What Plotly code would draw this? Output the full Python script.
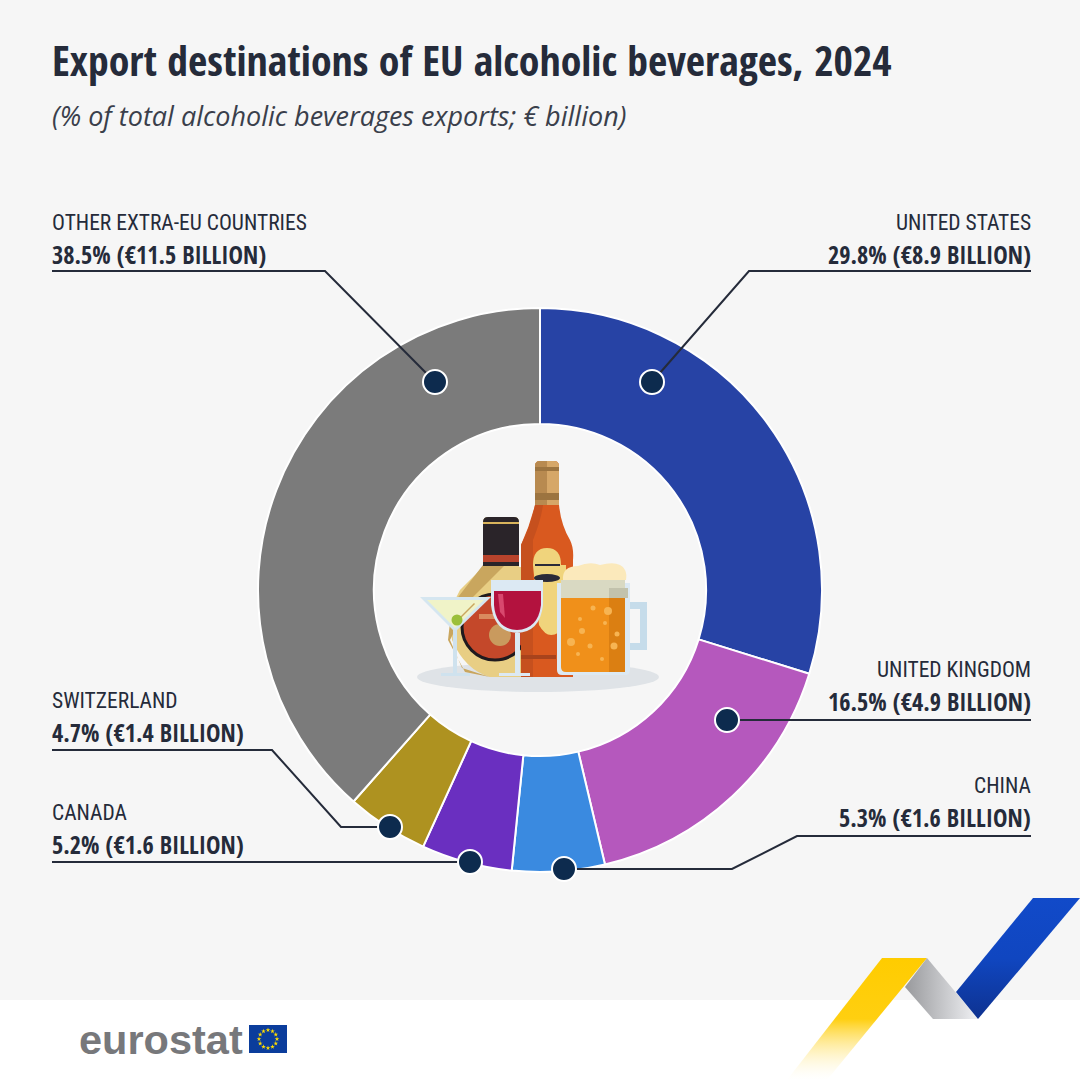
#!/usr/bin/env python3
# -*- coding: utf-8 -*-
# Export destinations of EU alcoholic beverages, 2024 (eurostat infographic)
import numpy as np
import plotly.graph_objs as go

# Data
destinations = ['UNITED STATES', 'UNITED KINGDOM', 'CHINA', 'CANADA', 'SWITZERLAND', 'OTHER EXTRA-EU COUNTRIES']
shares = [29.8, 16.5, 5.3, 5.2, 4.7, 38.5]
billions = ['8.9', '4.9', '1.6', '1.6', '1.4', '11.5']
colors = ['#2743A5', '#B558BD', '#3A8AE0', '#6A2FC0', '#AE9220', '#7B7B7B']

title = 'Export destinations of EU alcoholic beverages, 2024'
subtitle = '(% of total alcoholic beverages exports; € billion)'

# Label layout, in page pixels: x, y of first line, anchor
label_x = [1031, 1031, 1031, 52, 52, 52]
label_y = [222, 669, 785, 812, 700, 222]
label_anchor = ['right', 'right', 'right', 'left', 'left', 'left']

# Leader lines, page pixels (last point is the dot)
leaders = [
    [(1031, 271), (749, 271), (652, 382)],
    [(1031, 720), (727, 720)],
    [(1031, 836), (797, 836), (732, 869), (564, 869)],
    [(52, 862), (470, 862)],
    [(52, 750), (272, 750), (341, 827), (390, 827)],
    [(52, 271), (325, 271), (435, 382)],
]

REGULAR = 'Roboto Condensed'
BOLD = 'Open Sans Condensed'
INK = '#252B3A'
shapes = []


def poly(points, color, layer='above'):
    path = 'M' + ' L'.join(f'{x},{y}' for x, y in points) + ' Z'
    shapes.append(dict(type='path', path=path, fillcolor=color, line_width=0,
                       xref='x', yref='y', layer=layer))


def curve(path, color):
    shapes.append(dict(type='path', path=path, fillcolor=color, line_width=0,
                       xref='x', yref='y', layer='above'))


def ellipse(cx, cy, rx, ry, color, line=None, lw=0, layer='above'):
    shapes.append(dict(type='circle', x0=cx - rx, x1=cx + rx, y0=cy - ry, y1=cy + ry,
                       fillcolor=color, line=dict(color=line, width=lw) if line else dict(width=0),
                       xref='x', yref='y', layer=layer))


fig = go.Figure()

# Donut
fig.add_trace(go.Pie(labels=destinations, values=shares, sort=False, direction='clockwise',
                     rotation=0, hole=0.589, textinfo='none', hoverinfo='label+percent',
                     showlegend=False,
                     marker=dict(colors=colors, line=dict(color='#FFFFFF', width=2)),
                     domain=dict(x=[258 / 1080, 822 / 1080], y=[208 / 1080, 772 / 1080])))

# Ribbon in the bottom corner
fig.add_trace(go.Scatter(x=[882, 927, 827, 787, 882], y=[958, 958, 1080, 1080, 958], mode='lines',
                         fill='toself', line_width=0, hoverinfo='skip', showlegend=False,
                         fillgradient=dict(type='vertical', start=958, stop=1080,
                                           colorscale=[[0, '#FFCC00'], [0.5, '#FFCF10'], [1, 'rgba(255,255,255,0.2)']])))
fig.add_trace(go.Scatter(x=[927, 978, 933, 905, 927], y=[958, 1019, 1019, 987, 958], mode='lines',
                         fill='toself', line_width=0, hoverinfo='skip', showlegend=False,
                         fillgradient=dict(type='horizontal', start=905, stop=978,
                                           colorscale=[[0, '#98999C'], [1, '#F0F1F4']])))
fig.add_trace(go.Scatter(x=[1033, 1080, 978, 956, 1033], y=[898, 898, 1019, 992, 898], mode='lines',
                         fill='toself', line_width=0, hoverinfo='skip', showlegend=False,
                         fillgradient=dict(type='vertical', start=898, stop=1019,
                                           colorscale=[[0, '#114AC9'], [0.5, '#1046C0'], [1, '#0E3290']])))

# Flag stars of the logo
star_angle = np.arange(12) * np.pi / 6
fig.add_trace(go.Scatter(x=268 + 9 * np.sin(star_angle), y=1039 - 9 * np.cos(star_angle), mode='markers',
                         marker=dict(symbol='star', size=3.5, color='#FFDD00'),
                         hoverinfo='skip', showlegend=False))

# White footer and flag
poly([(0, 1000), (1080, 1000), (1080, 1080), (0, 1080)], '#FFFFFF', layer='below')
poly([(249, 1025), (287, 1025), (287, 1053), (249, 1053)], '#0B3D9C', layer='below')

# Drinks illustration in the hole
ellipse(538, 677, 121, 15, '#DFE3E7')
# black bottle
curve('M483,522 Q483,517 488,517 L514,517 Q519,517 519,522 L519,567 L530,567 L530,677 L490,677 '
      'Q465,670 452,640 Q448,610 460,590 Q472,578 483,567 Z', '#E8CE84')
poly([(483, 565), (505, 565), (470, 600), (450, 640), (462, 668), (490, 677), (465, 672), (448, 640), (452, 605)], '#C9A65E')
curve('M483,522 Q483,517 488,517 L514,517 Q519,517 519,522 L519,566 L483,566 Z', '#2A2429')
poly([(483, 522), (519, 522), (519, 524), (483, 524)], '#D9B45C')
poly([(483, 555), (519, 555), (519, 562), (483, 562)], '#B8432C')
ellipse(495, 627, 33, 33, '#C4482A', line='#1F1A1E', lw=3)
ellipse(500, 635, 11, 11, '#C99A5E')
poly([(479, 614), (498, 614), (498, 619), (479, 619)], '#D98B5E')
# orange bottle
curve('M535,466 Q535,461 540,461 L554,461 Q559,461 559,466 L559,505 Q561,525 570,540 Q574,548 573,560 '
      'L573,677 L521,677 L521,545 Q530,525 535,505 Z', '#D9591F')
curve('M535,505 Q531,525 521,545 L521,677 L533,677 L533,540 Q541,520 543,505 Z', '#C6501E')
curve('M535,466 Q535,461 540,461 L554,461 Q559,461 559,466 L559,505 L535,505 Z', '#D6A768')
curve('M535,466 Q535,461 540,461 L547,461 L547,505 L535,505 Z', '#B88A50')
poly([(535, 467), (559, 467), (559, 471), (535, 471)], '#9C7440')
poly([(535, 493), (559, 493), (559, 500), (535, 500)], '#9C7440')
curve('M533,565 Q533,548 547,548 Q561,548 561,565 L566,565 L566,625 Q550,645 539,625 L533,565 Z', '#F0D47C')
poly([(535, 564), (560, 564), (560, 566), (535, 566)], '#2B2A38')
ellipse(547, 578, 13, 4, '#2B2A38')
poly([(521, 655), (556, 655), (556, 659), (521, 659)], '#A8431C')
# martini
poly([(420, 597), (491, 597), (455, 632)], '#D5E6F0')
poly([(427, 600), (484, 600), (455, 628)], '#F0F3C8')
poly([(453, 630), (457, 630), (457, 675), (453, 675)], '#CFE2EE')
poly([(441, 673), (470, 673), (470, 676), (441, 676)], '#CFE2EE')
poly([(457, 620), (474, 603), (475, 604), (458, 621)], '#C9A65E')
ellipse(457, 620, 5.5, 5.5, '#9BBF3A')
# wine glass
curve('M491,580 L543,580 L543,605 Q540,632 517,633 Q494,632 491,605 Z', '#DCE9F3')
curve('M494,591 L541,591 L541,605 Q538,629 517,630 Q496,629 494,605 Z', '#B3123E')
poly([(515, 633), (520, 633), (520, 675), (515, 675)], '#DCE9F3')
poly([(499, 673), (530, 673), (530, 676), (499, 676)], '#DCE9F3')
poly([(498, 594), (503, 594), (505, 618), (500, 612)], '#D8486E')
# beer mug
curve('M630,602 L647,602 L647,650 L630,650 L630,643 L640,643 L640,609 L630,609 Z', '#C6DCEA')
curve('M557,583 L630,583 L630,670 Q630,675 625,675 L562,675 Q557,675 557,670 Z', '#DCE9F3')
curve('M561,598 L625,598 L625,667 Q625,672 620,672 L566,672 Q561,672 561,667 Z', '#F0901A')
poly([(609, 598), (625, 598), (625, 672), (609, 672)], '#DB7F12')
poly([(561, 580), (625, 580), (625, 598), (561, 598)], '#D9D9C2')
poly([(609, 588), (628, 588), (628, 598), (609, 598)], '#C2C2AC')
curve('M563,580 Q562,566 578,566 Q590,561 600,565 Q620,560 625,570 Q627,574 626,580 Z', '#FBE9BB')
for bx, by, br in [(593, 608, 2.5), (608, 611, 4), (580, 619, 2), (605, 623, 2), (582, 631, 3),
                   (571, 642, 4), (590, 646, 2.5), (614, 646, 3.5), (578, 654, 2), (602, 659, 2), (617, 634, 2.5)]:
    ellipse(bx, by, br, br, '#F7B452')

# Leader lines and dots
for pts in leaders:
    path = 'M' + ' L'.join(f'{x},{y}' for x, y in pts)
    shapes.append(dict(type='path', path=path, line=dict(color=INK, width=2),
                       xref='x', yref='y', layer='above'))
for pts in leaders:
    ellipse(pts[-1][0], pts[-1][1], 12, 12, '#0D2B4E', line='#FFFFFF', lw=2)

# Texts
annotations = [
    dict(x=52, y=59, text=title, xanchor='left', yanchor='middle',
         font=dict(family=BOLD, size=41.8, color=INK)),
    dict(x=52, y=115, text=f'<i>{subtitle}</i>', xanchor='left', yanchor='middle',
         font=dict(family='Open Sans', size=27, color='#3A3F4B')),
    dict(x=79, y=1039, text='<b>eurostat</b>', xanchor='left', yanchor='middle',
         font=dict(family='Liberation Sans', size=41.5, color='#77787B')),
]
for name, share, bn, lx, ly, anchor in zip(destinations, shares, billions, label_x, label_y, label_anchor):
    annotations.append(dict(x=lx, y=ly, text=name, xanchor=anchor, yanchor='middle',
                            font=dict(family=REGULAR, size=21.5, color=INK)))
    annotations.append(dict(x=lx, y=ly + 32, text=f'{share}% (€{bn} BILLION)', xanchor=anchor, yanchor='middle',
                            font=dict(family=BOLD, size=24.3, color=INK)))
for a in annotations:
    a.update(xref='x', yref='y', showarrow=False, borderpad=0, borderwidth=0)

fig.update_layout(width=1080, height=1080, margin=dict(l=0, r=0, t=0, b=0),
                  paper_bgcolor='#F6F6F6', plot_bgcolor='rgba(0,0,0,0)',
                  shapes=shapes, annotations=annotations,
                  xaxis=dict(range=[0, 1080], visible=False, domain=[0, 1], fixedrange=True),
                  yaxis=dict(range=[1080, 0], visible=False, domain=[0, 1], fixedrange=True))

fig.write_html("out.html", config=dict(displayModeBar=False),
               post_script="document.body.style.margin = '0';")
